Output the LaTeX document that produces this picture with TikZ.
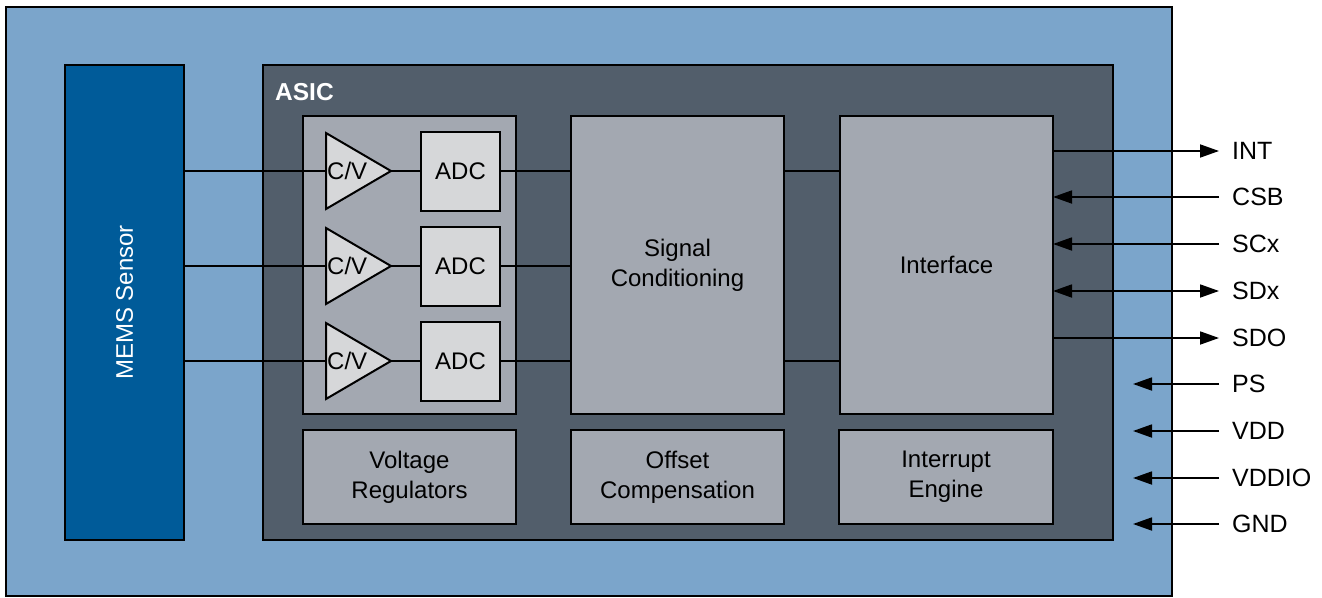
\documentclass[tikz,border=0pt]{standalone}
\usepackage{fontspec}
\setmainfont{Liberation Sans}
\usetikzlibrary{arrows.meta}

\definecolor{pkgblue}{RGB}{123,165,203}
\definecolor{memsblue}{RGB}{0,91,153}
\definecolor{asicgray}{RGB}{82,94,107}
\definecolor{blockgray}{RGB}{163,168,177}
\definecolor{cellgray}{RGB}{214,215,217}

\tikzset{
  txt/.style={font=\fontsize{24}{30}\selectfont},
  frame/.style={draw=black, line width=2pt, inner sep=0pt, outer sep=0pt, anchor=north west},
  blockbox/.style={frame, fill=blockgray, txt, align=center, text=black},
  adcbox/.style={draw=black, line width=2pt, fill=cellgray, inner sep=0pt, outer sep=0pt,
    minimum width=79pt, minimum height=79pt, txt},
  ampbody/.style={draw=black, line width=2pt, fill=cellgray, line join=miter},
  wire/.style={draw=black, line width=1.8pt},
  tip/.style={-{Triangle[length=19pt,width=13pt]}},
  bothtips/.style={{Triangle[length=19pt,width=13pt]}-{Triangle[length=19pt,width=13pt]}},
  pinlabel/.style={anchor=west, inner sep=0pt, font=\fontsize{25}{30}\selectfont}
}

\begin{document}
\begin{tikzpicture}[x=1pt, y=-1pt]
\useasboundingbox (0,0) rectangle (1322,597);

% package outline
\node[frame, fill=pkgblue, minimum width=1166pt, minimum height=589pt] (pkg) at (6,7) {};

% MEMS sensing element
\node[frame, fill=memsblue, minimum width=119pt, minimum height=475pt] (mems) at (65,65) {};
\node[rotate=90, text=white, txt] (memstxt) at (mems.center) {MEMS Sensor};

% ASIC die
\node[frame, fill=asicgray, minimum width=850pt, minimum height=475pt] (asic) at (263,65) {};
\node[anchor=base west, inner sep=0pt, text=white, font=\fontsize{24.5}{30}\selectfont\bfseries] (asiclbl) at (275,100) {ASIC};

% analog front end group
\node[blockbox, minimum width=213pt, minimum height=298pt] (afe) at (303,116) {};

% main blocks
\node[blockbox, minimum width=213pt, minimum height=298pt] (sc) at (571,116) {Signal\\Conditioning};
\node[blockbox, minimum width=213pt, minimum height=298pt] (ifc) at (840,116) {Interface};
\node[blockbox, minimum width=213pt, minimum height=94pt] (vreg) at (303,430) {Voltage\\Regulators};
\node[blockbox, minimum width=213pt, minimum height=94pt] (ofs) at (571,430) {Offset\\Compensation};
\node[blockbox, minimum width=214pt, minimum height=94pt] (irq) at (839,430) {Interrupt\\Engine};

% three C/V + ADC channels
\foreach \i/\y in {1/171,2/266,3/361}{
  \coordinate (cvin\i) at (326,\y);
  \coordinate (cvout\i) at (391,\y);
  \draw[ampbody] (326,\y-38) -- (391,\y) -- (326,\y+38) -- cycle;
  \node[anchor=west, inner sep=0pt, txt] (cvt\i) at (327,\y) {C/V};
  \node[adcbox] (adc\i) at (460.5,\y) {ADC};
  \draw[wire] (mems.east |- cvin\i) -- (cvin\i);
  \draw[wire] (cvout\i) -- (adc\i.west);
  \draw[wire] (adc\i.east) -- (sc.west |- adc\i.east);
}

% signal conditioning to interface
\draw[wire] (sc.east |- cvin1) -- (ifc.west |- cvin1);
\draw[wire] (sc.east |- cvin3) -- (ifc.west |- cvin3);

% pins
\foreach \n/\y in {INT/151,CSB/197,SCx/244,SDx/291,SDO/338,PS/384,VDD/431,VDDIO/478,GND/524}{
  \coordinate (p\n) at (1219,\y);
  \node[pinlabel] (l\n) at (1232,\y) {\n};
}
\foreach \n in {PS,VDD,VDDIO,GND}{
  \coordinate (q\n) at (1133,0 |- p\n);
}

\draw[wire, tip] (ifc.east |- pINT) -- (pINT);
\draw[wire, tip] (pCSB) -- (ifc.east |- pCSB);
\draw[wire, tip] (pSCx) -- (ifc.east |- pSCx);
\draw[wire, bothtips] (ifc.east |- pSDx) -- (pSDx);
\draw[wire, tip] (ifc.east |- pSDO) -- (pSDO);
\foreach \n in {PS,VDD,VDDIO,GND}{
  \draw[wire, tip] (p\n) -- (q\n);
}
\end{tikzpicture}
\end{document}
